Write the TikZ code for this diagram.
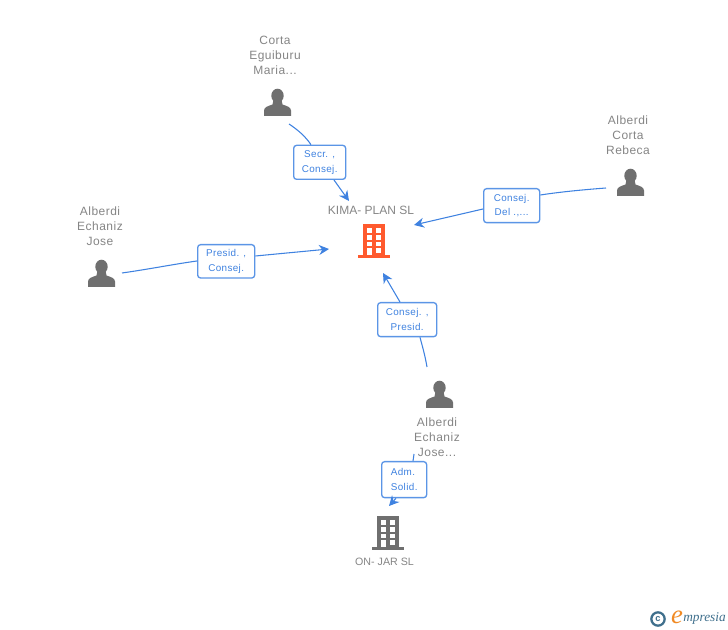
\documentclass[tikz,border=0pt]{standalone}
\usepackage{fontspec}
\setmainfont{Liberation Sans}
\newfontfamily\spaced[LetterSpace=4]{Liberation Sans}
\newfontfamily\logofont{Liberation Serif}
\usetikzlibrary{arrows.meta}
\definecolor{edgeblue}{HTML}{3F82E0}
\definecolor{boxblue}{HTML}{5B95E6}
\definecolor{labelgrey}{HTML}{858585}
\definecolor{icongrey}{HTML}{6F6F6F}
\definecolor{bldorange}{HTML}{FF5A2E}
\definecolor{logoteal}{HTML}{3F6F8C}
\definecolor{logoorange}{HTML}{F08A24}
\tikzset{
  x=0.75pt,y=-0.75pt,
  personname/.style={font=\spaced\fontsize{9}{11.4}\selectfont,text=labelgrey,align=center,inner sep=0pt},
  companyname/.style={font=\fontsize{9}{11.4}\selectfont,text=labelgrey,align=center,inner sep=0pt},
  smallname/.style={font=\fontsize{8}{10}\selectfont,text=labelgrey,align=center,inner sep=0pt},
  rolebox/.style={draw=boxblue,line width=1pt,rounded corners=2.2pt,fill=white,text=edgeblue,
    font=\spaced\fontsize{7.4}{11}\selectfont,align=center,inner sep=0pt,anchor=north west},
  link/.style={draw=edgeblue,line width=0.8pt},
  linkarrow/.style={link,-{Stealth[length=7.5pt,width=7.5pt]}},
  person/.pic={
    \fill[icongrey] (0,-6.8) circle[x radius=6.2,y radius=7];
    \fill[icongrey] (-13.5,13.5) -- (-13.5,8) .. controls (-13.5,4.5) and (-9,3.5) .. (-5,2)
      -- (-4,-3) -- (4,-3) -- (5,2) .. controls (9,3.5) and (13.5,4.5) .. (13.5,8) -- (13.5,13.5) -- cycle;
  },
  building/.pic={
    \fill[pic actions] (-16,31) rectangle (16,34);
    \fill[pic actions] (-11,0) rectangle (11,33);
    \foreach \yy in {4.3,11,17.7}{
      \fill[white] (-7,\yy) rectangle (-2,\yy+4.6);
      \fill[white] (2,\yy) rectangle (7,\yy+4.6);
    }
    \fill[white] (2,24.3) rectangle (7,29);
    \fill[white] (-7,24.3) rectangle (-2,31);
  }
}
\begin{document}
\begin{tikzpicture}
\useasboundingbox (0,0) rectangle (728,630);

% icons
\pic at (277.5,102.5) {person};
\pic at (630.5,182.5) {person};
\pic at (101.5,273.5) {person};
\pic at (439.5,394.5) {person};
\pic[fill=bldorange] at (374,224) {building};
\pic[fill=icongrey] at (387.5,516) {building};

% names
\node[personname] (corta) at (275,55.5) {Corta\\Eguiburu\\Maria...};
\node[personname] (rebeca) at (628,135) {Alberdi\\Corta\\Rebeca};
\node[personname] (jose) at (100,226) {Alberdi\\Echaniz\\Jose};
\node[personname] (josedots) at (437,437) {Alberdi\\Echaniz\\Jose...};
\node[companyname] (kima) at (371,210) {KIMA- PLAN SL};
\node[smallname] (onjar) at (384.5,562) {ON- JAR SL};

% role boxes
\node[rolebox,minimum width=39pt,minimum height=25.5pt,yshift=-0.5pt] (b1) at (293,144) {Secr. ,\\Consej.};
\node[rolebox,minimum width=42pt,minimum height=25.5pt] (b2) at (483,188) {Consej.\\Del .,...};
\node[rolebox,minimum width=42.75pt,minimum height=25pt] (b3) at (197,244) {Presid. ,\\Consej.};
\node[rolebox,minimum width=44.25pt,minimum height=25.5pt] (b4) at (377,302) {Consej. ,\\Presid.};
\node[rolebox,minimum width=33.75pt,minimum height=27pt,align=left] (b5) at (381,461) {Adm.\\Solid.};

% connector ends
\coordinate (s1) at (289,124);
\coordinate (t1) at (349,201);
\coordinate (s2) at (606,188);
\coordinate (t2) at (414,225);
\coordinate (s3) at (122,273);
\coordinate (t3) at (329,249);
\coordinate (s4) at (427,367);
\coordinate (t4) at (383,273);
\coordinate (s5) at (414,454);
\coordinate (t5) at (389,506);

% connectors
\path[link] (s1) .. controls (298,130) and (305,136) .. (b1.north -| 311,0);
\path[linkarrow] (b1.south -| 334,0) -- (t1);
\path[link] (s2) .. controls (580,190) and (560,192) .. (b2.east |- 0,195);
\path[linkarrow] (b2.west |- 0,209) -- (t2);
\path[link] (s3) .. controls (150,269) and (175,264) .. (b3.west |- 0,261);
\path[linkarrow] (b3.east |- 0,256) -- (t3);
\path[link] (s4) .. controls (425,355) and (422,345) .. (b4.south -| 420,0);
\path[linkarrow] (b4.north -| 400,0) -- (t4);
\path[link] (s5) -- (b5.north -| 413,0);
\path[linkarrow] (b5.south -| 396,0) -- (t5);

% logo
\node[draw=logoteal,line width=1.7pt,circle,minimum size=10pt,inner sep=0pt,text=logoteal,
  font=\fontsize{7}{7}\bfseries\selectfont] (copy) at (658,619) {c};
\node[inner sep=0pt,text=logoorange,font=\logofont\itshape\fontsize{20}{20}\selectfont] (logoe) at (677,617) {e};
\node[inner sep=0pt,anchor=west,text=logoteal,font=\logofont\itshape\fontsize{10}{10}\selectfont] (logot) at (683,619) {mpresia};
\end{tikzpicture}
\end{document}
